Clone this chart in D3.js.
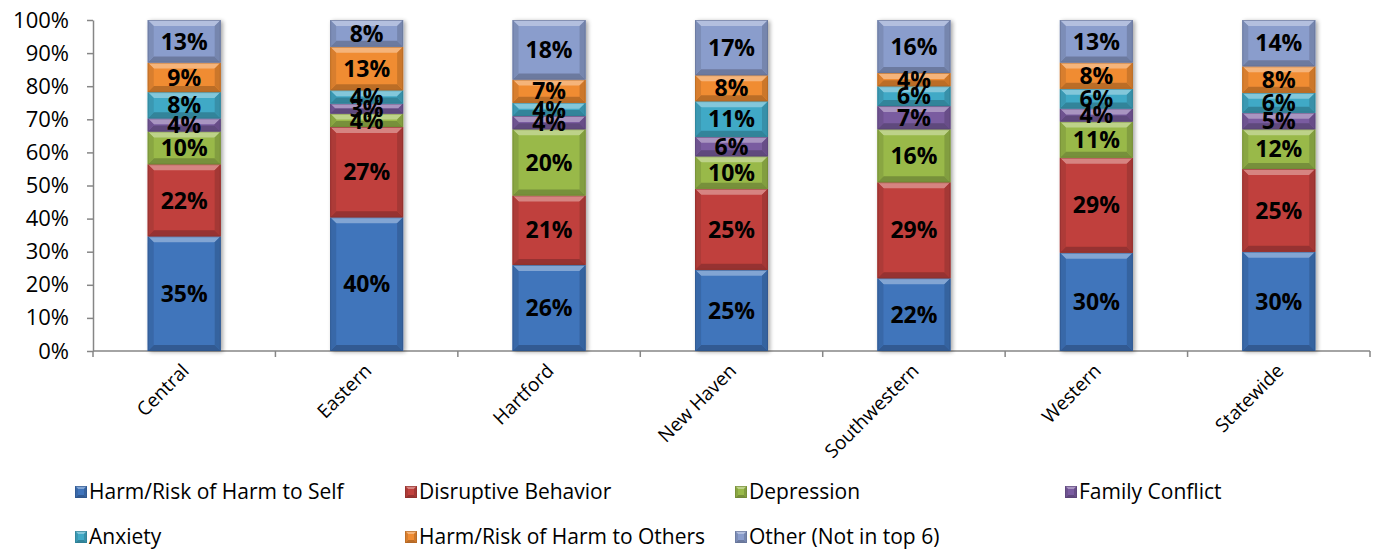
<!DOCTYPE html>
<html>
<head>
<meta charset="utf-8">
<script src="https://cdn.jsdelivr.net/npm/d3@7"></script>
<style>
  html, body { margin: 0; padding: 0; background: #fff; }
  svg { display: block; }
  text { font-family: "Open Sans", sans-serif; fill: #000; }
</style>
</head>
<body>
<svg id="chart" width="1377" height="552"></svg>
<script>
// Regions and problem categories (percent of admissions)
const regions = ["Central", "Eastern", "Hartford", "New Haven", "Southwestern", "Western", "Statewide"];
const seriesNames = ["Harm/Risk of Harm to Self", "Disruptive Behavior", "Depression", "Family Conflict",
                     "Anxiety", "Harm/Risk of Harm to Others", "Other (Not in top 6)"];
const harmSelf     = [35, 40, 26, 25, 22, 30, 30];
const disruptive   = [22, 27, 21, 25, 29, 29, 25];
const depression   = [10,  4, 20, 10, 16, 11, 12];
const familyConf   = [ 4,  3,  4,  6,  7,  4,  5];
const anxiety      = [ 8,  4,  4, 11,  6,  6,  6];
const harmOthers   = [ 9, 13,  7,  8,  4,  8,  8];
const otherNotTop6 = [13,  8, 18, 17, 16, 13, 14];
const yTicks = [0, 0.1, 0.2, 0.3, 0.4, 0.5, 0.6, 0.7, 0.8, 0.9, 1.0];
const colors = ["#3f74bb", "#c0413d", "#99b94a", "#7a5ca0", "#40a9c6", "#f08c33", "#8a9dcc"];

const seriesValues = [harmSelf, disruptive, depression, familyConf, anxiety, harmOthers, otherNotTop6];
const rows = regions.map((r, i) => {
  const o = { region: r };
  seriesNames.forEach((s, k) => { o[s] = seriesValues[k][i]; });
  return o;
});

const stack = d3.stack().keys(seriesNames).offset(d3.stackOffsetExpand);
const stacked = stack(rows);

const svg = d3.select("#chart");
const margin = { left: 93, right: 7, top: 20, bottom: 201 };
const W = 1377, H = 552;
const plotW = W - margin.left - margin.right;
const plotH = H - margin.top - margin.bottom;

const x = d3.scaleBand().domain(regions).range([margin.left, margin.left + plotW]).paddingInner(0.6).paddingOuter(0.3);
const xEdges = d3.scaleLinear().domain([0, regions.length]).range([margin.left, margin.left + plotW]);
const y = d3.scaleLinear().domain([0, 1]).range([margin.top + plotH, margin.top]);

const axisColor = "#868686";

// Y axis
const yAxis = svg.append("g")
  .attr("transform", `translate(${margin.left},0)`)
  .call(d3.axisLeft(y).tickValues(yTicks).tickFormat(d3.format(".0%")).tickSize(6).tickSizeOuter(0));
yAxis.select(".domain").attr("stroke", axisColor).attr("stroke-width", 1.5);
yAxis.selectAll(".tick line").attr("stroke", axisColor).attr("stroke-width", 1.5);
yAxis.selectAll(".tick text").attr("x", -24).attr("font-size", 22)
  .style("font-family", "'Open Sans', sans-serif");

// X axis line and category separators
const xg = svg.append("g");
xg.append("line")
  .attr("x1", margin.left).attr("x2", margin.left + plotW)
  .attr("y1", y(0)).attr("y2", y(0))
  .attr("stroke", axisColor).attr("stroke-width", 1.5);
xg.selectAll("line.sep").data(d3.range(regions.length + 1)).join("line")
  .attr("class", "sep")
  .attr("x1", d => xEdges(d)).attr("x2", d => xEdges(d))
  .attr("y1", y(0)).attr("y2", y(0) + 6)
  .attr("stroke", axisColor).attr("stroke-width", 1.5);

// Category labels, rotated
xg.selectAll("text.cat").data(regions).join("text")
  .attr("class", "cat")
  .attr("text-anchor", "end")
  .attr("font-size", 19)
  .attr("transform", d => `translate(${x(d) + x.bandwidth() / 2 + 6},${y(0) + 21}) rotate(-45)`)
  .text(d => d);

// Beveled bar segments
const defs = svg.append("defs");
const shadow = defs.append("filter").attr("id", "shadow").attr("x", "-20%").attr("y", "-20%").attr("width", "140%").attr("height", "140%");
shadow.append("feGaussianBlur").attr("in", "SourceAlpha").attr("stdDeviation", 2);
shadow.append("feOffset").attr("dx", 2).attr("dy", 1).attr("result", "b");
shadow.append("feComponentTransfer").append("feFuncA").attr("type", "linear").attr("slope", 0.35);
const merge = shadow.append("feMerge");
merge.append("feMergeNode");
merge.append("feMergeNode").attr("in", "SourceGraphic");

function bevel(g, x0, y0, w, h, base, size) {
  const c = d3.color(base);
  const b = Math.max(0, Math.min(size, h / 2, w / 2));
  const x1 = x0 + w, y1 = y0 + h;
  g.append("rect").attr("x", x0).attr("y", y0).attr("width", w).attr("height", h).attr("fill", base);
  const poly = (pts, fill) => g.append("polygon").attr("points", pts.map(p => p.join(",")).join(" ")).attr("fill", fill);
  poly([[x0, y0], [x1, y0], [x1 - b, y0 + b], [x0 + b, y0 + b]], d3.interpolateRgb(base, "#ffffff")(0.35));
  poly([[x0, y1], [x1, y1], [x1 - b, y1 - b], [x0 + b, y1 - b]], c.darker(0.7));
  poly([[x0, y0], [x0 + b, y0 + b], [x0 + b, y1 - b], [x0, y1]], c.darker(0.3));
  poly([[x1, y0], [x1 - b, y0 + b], [x1 - b, y1 - b], [x1, y1]], c.darker(0.45));
  g.append("rect").attr("x", x0 + 0.5).attr("y", y0 + 0.5).attr("width", Math.max(0, w - 1)).attr("height", Math.max(0, h - 1))
    .attr("fill", "none").attr("stroke", c.darker(0.9)).attr("stroke-width", 1).attr("stroke-opacity", 0.6);
}

const barsG = svg.append("g");
regions.forEach((r, i) => {
  const bar = barsG.append("g").attr("filter", "url(#shadow)");
  stacked.forEach((layer, k) => {
    const d = layer[i];
    const top = y(d[1]), bottom = y(d[0]);
    bevel(bar, x(r), top, x.bandwidth(), bottom - top, colors[k], 6);
  });
});

// Value labels
const labelsG = svg.append("g");
stacked.forEach((layer, k) => {
  layer.forEach((d, i) => {
    const r = regions[i];
    labelsG.append("text")
      .attr("x", x(r) + x.bandwidth() / 2)
      .attr("y", (y(d[0]) + y(d[1])) / 2)
      .attr("dy", "0.36em")
      .attr("text-anchor", "middle")
      .attr("font-size", 23)
      .attr("font-weight", "bold")
      .text(seriesValues[k][i] + "%");
  });
});

// Legend
const legendCols = [80, 410, 740, 1070];
const legendRows = [492, 537];
const legend = svg.append("g");
seriesNames.forEach((s, k) => {
  const lx = legendCols[k % 4], ly = legendRows[Math.floor(k / 4)];
  const g = legend.append("g");
  bevel(g, lx - 5, ly - 6, 12, 12, colors[k], 3);
  g.append("text").attr("x", lx + 9).attr("y", ly).attr("dy", "0.35em").attr("font-size", 21).text(s);
});
</script>
</body>
</html>
